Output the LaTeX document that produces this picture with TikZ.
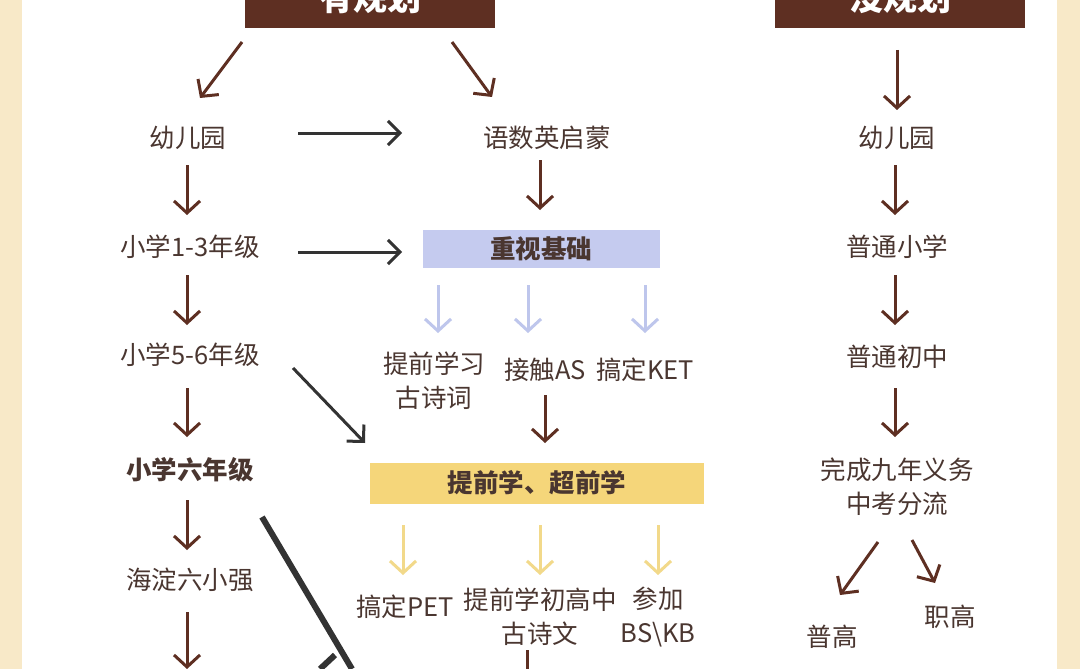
\documentclass[tikz,border=0pt]{standalone}
\usepackage{fontspec}
\setmainfont{Noto Sans CJK SC}
\usetikzlibrary{arrows.meta}
\definecolor{bei}{HTML}{F8E9C8}
\definecolor{brn}{HTML}{5E2F22}
\definecolor{txt}{HTML}{4A3630}
\definecolor{blu}{HTML}{C5CBEF}
\definecolor{ylw}{HTML}{F5D67A}
\definecolor{ylwa}{HTML}{F2D98A}
\definecolor{blua}{HTML}{BEC6EC}
\begin{document}
\begin{tikzpicture}[x=1pt,y=-1pt,
  lab/.style={text=txt,font=\fontsize{25.5}{34}\selectfont,align=center,inner sep=0},
  arr/.style={draw=brn,line width=3pt,-{Straight Barb[length=12pt,width=26pt,line width=3pt]}},
  karr/.style={draw=black!80,line width=3pt,-{Straight Barb[length=12pt,width=24pt,line width=3pt]}},
  barr/.style={draw=blua,line width=3pt,-{Straight Barb[length=12pt,width=26pt,line width=3pt]}},
  yarr/.style={draw=ylwa,line width=3pt,-{Straight Barb[length=12pt,width=26pt,line width=3pt]}},
  hdr/.style={fill=brn,text=white,font=\fontsize{34}{40}\selectfont\bfseries,minimum width=250pt,minimum height=60pt,inner sep=0}]
\useasboundingbox (0,0) rectangle (1080,669);
\fill[white] (0,0) rectangle (1080,669);
\fill[bei] (0,0) rectangle (22,669);
\fill[bei] (1057,0) rectangle (1080,669);
\begin{scope}
\clip (0,0) rectangle (1080,669);
\node[hdr] (h1) at (370,-2) {有规划};
\node[hdr] (h2) at (900,-2) {没规划};
\end{scope}
% left column
\node[lab] (a1) at (188,138) {幼儿园};
\node[lab] (a2) at (190,247) {小学1-3年级};
\node[lab] (a3) at (190,355) {小学5-6年级};
\node[lab,font=\fontsize{25.5}{34}\selectfont\bfseries] (a4) at (190,470) {小学六年级};
\node[lab] (a5) at (190,580) {海淀六小强};
\coordinate (a6) at (187,669);
\coordinate (t1) at (242,42); \coordinate (t1e) at (200,98);
\coordinate (t2) at (452,42); \coordinate (t2e) at (492,97);
\draw[arr] (t1) -- (t1e);
\draw[arr] (t2) -- (t2e);
\draw[arr] (187,165) -- (187,215);
\draw[arr] (187,275) -- (187,325);
\draw[arr] (187,388) -- (187,437);
\draw[arr] (187,500) -- (187,550);
\draw[arr] (187,612) -- (a6);
% middle
\node[lab] (m1) at (547,138) {语数英启蒙};
\node[fill=blu,text=txt,font=\fontsize{25.5}{34}\selectfont\bfseries,minimum width=237pt,minimum height=38pt,inner sep=0] (m2) at (541,249) {重视基础};
\node[lab] (m3a) at (434,381) {提前学习\\古诗词};
\node[lab] (m3b) at (545,370) {接触AS};
\node[lab] (m3c) at (645,370) {搞定KET};
\node[fill=ylw,text=txt,font=\fontsize{25.5}{34}\selectfont\bfseries,minimum width=334pt,minimum height=41pt,inner sep=0] (m4) at (537,483) {提前学、超前学};
\node[lab] (m5a) at (405,607) {搞定PET};
\node[lab] (m5b) at (540,617) {提前学初高中\\古诗文};
\node[lab] (m5c) at (658,617) {参加\\BS\textbackslash KB};
\draw[karr] (298,133) -- (402,133);
\draw[karr] (298,252) -- (402,252);
\draw[karr] (293,368) -- (365,443);
\draw[draw=black!80,line width=6pt] (262,517) -- (352,669);
\draw[black!80,line width=6pt] (320,669) -- (335,655);
\draw[arr] (540,160) -- (540,210);
\foreach \x in {438,528,645} \draw[barr] (\x,285) -- (\x,333);
\draw[arr] (545,395) -- (545,443);
\foreach \x in {403,540,658} \draw[yarr] (\x,525) -- (\x,575);
\draw[brn,line width=3pt] (527,650) -- (527,669);
% right
\node[lab] (r1) at (897,138) {幼儿园};
\node[lab] (r2) at (897,247) {普通小学};
\node[lab] (r3) at (897,357) {普通初中};
\node[lab] (r4) at (897,487) {完成九年义务\\中考分流};
\node[lab] (r5) at (832,637) {普高};
\node[lab] (r6) at (950,617) {职高};
\draw[arr] (897,50) -- (897,110);
\draw[arr] (895,165) -- (895,215);
\draw[arr] (895,275) -- (895,325);
\draw[arr] (895,388) -- (895,437);
\draw[arr] (878,542) -- (840,595);
\draw[arr] (912,540) -- (935,583);
\end{tikzpicture}
\end{document}
